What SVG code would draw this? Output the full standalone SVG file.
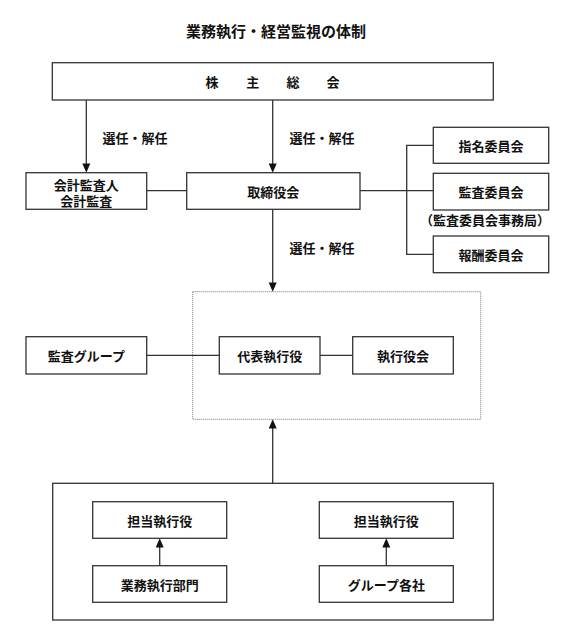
<svg xmlns="http://www.w3.org/2000/svg" width="573" height="639" viewBox="0 0 573 639">
<style>
.box{fill:#fff;stroke:#333;stroke-width:1.3}
.frame{fill:none;stroke:#333;stroke-width:1.3}
.t{font-family:"Noto Sans CJK JP","Noto Sans CJK SC",sans-serif;font-size:13px;font-weight:bold;fill:#111;text-anchor:middle;dominant-baseline:central}
.title{font-size:15px}
.ln{stroke:#333;stroke-width:1.3;fill:none}
.ah{fill:#111}
.dot{fill:none;stroke:#777;stroke-width:1;stroke-dasharray:1 1}
</style>
<rect width="573" height="639" fill="#fff"/>
<text class="t title" x="276" y="30">業務執行・経営監視の体制</text>

<g id="exec-area">
<rect class="dot" x="192.7" y="291.7" width="288" height="127.6"/>
</g>
<g id="operations">
<rect class="frame" x="52.7" y="483.3" width="440.6" height="136.7"/>
</g>

<g id="connectors">
<path class="ln" d="M86.3,100 V164"/>
<path class="ah" d="M82.3,163.5 L90.3,163.5 L86.3,172.7 Z"/>
<path class="ln" d="M272.7,100 V164"/>
<path class="ah" d="M268.7,163.5 L276.7,163.5 L272.7,172.7 Z"/>
<path class="ln" d="M272.7,209.3 V283"/>
<path class="ah" d="M268.7,282.5 L276.7,282.5 L272.7,291.7 Z"/>
<path class="ln" d="M272.7,483.3 V428"/>
<path class="ah" d="M268.7,428.5 L276.7,428.5 L272.7,419.3 Z"/>
<path class="ln" d="M146.7,190.7 H186.7"/>
<path class="ln" d="M360,190.7 H433.3"/>
<path class="ln" d="M433.3,145.3 H406.7 V254.3 H433.3"/>
<path class="ln" d="M146.7,355.3 H219.3"/>
<path class="ln" d="M320,355.3 H352.7"/>
<path class="ln" d="M159.7,565.7 V547"/>
<path class="ah" d="M155.7,547.5 L163.7,547.5 L159.7,538.3 Z"/>
<path class="ln" d="M386.3,565.7 V547"/>
<path class="ah" d="M382.3,547.5 L390.3,547.5 L386.3,538.3 Z"/>
<text class="t" x="135" y="137">選任・解任</text>
<text class="t" x="322" y="137">選任・解任</text>
<text class="t" x="322" y="247">選任・解任</text>
</g>

<g id="shareholders">
<rect class="box" x="52.3" y="62.7" width="441" height="37.3"/>
<text class="t" x="212 252.7 293 333" y="81.5">株主総会</text>
</g>
<g id="auditor">
<rect class="box" x="26" y="172.7" width="120.7" height="36.6"/>
<text class="t" x="86.3" y="183.5"><tspan x="86.3" y="183.5">会計監査人</tspan><tspan x="86.3" y="199.5">会計監査</tspan></text>
</g>
<g id="board">
<rect class="box" x="186.7" y="172.7" width="173.3" height="36.6"/>
<text class="t" x="273.3" y="191">取締役会</text>
</g>
<g id="nomination">
<rect class="box" x="433.3" y="127.3" width="115.4" height="36"/>
<text class="t" x="491" y="145.3">指名委員会</text>
</g>
<g id="audit-committee">
<rect class="box" x="433.3" y="173.3" width="115.4" height="36.7"/>
<text class="t" x="491" y="191.5">監査委員会</text>
<text class="t" x="485" y="219">（監査委員会事務局）</text>
</g>
<g id="compensation">
<rect class="box" x="433.3" y="236" width="115.4" height="36.7"/>
<text class="t" x="491" y="254.3">報酬委員会</text>
</g>
<g id="audit-group">
<rect class="box" x="26" y="336.7" width="120.7" height="37.3"/>
<text class="t" x="86.3" y="355.3">監査グループ</text>
</g>
<g id="ceo">
<rect class="box" x="219.3" y="336.7" width="100.7" height="37.3"/>
<text class="t" x="269.7" y="355.3">代表執行役</text>
</g>
<g id="exec-committee">
<rect class="box" x="352.7" y="336.7" width="100.6" height="37.3"/>
<text class="t" x="403" y="355.3">執行役会</text>
</g>
<g id="officer-left">
<rect class="box" x="92.7" y="501.7" width="134" height="36.6"/>
<text class="t" x="159.7" y="520">担当執行役</text>
</g>
<g id="divisions">
<rect class="box" x="92.7" y="565.7" width="134" height="36.6"/>
<text class="t" x="159.7" y="584">業務執行部門</text>
</g>
<g id="officer-right">
<rect class="box" x="319.3" y="501.7" width="134" height="36.6"/>
<text class="t" x="386.3" y="520">担当執行役</text>
</g>
<g id="group-companies">
<rect class="box" x="319.3" y="565.7" width="134" height="36.6"/>
<text class="t" x="386.3" y="584">グループ各社</text>
</g>
</svg>
